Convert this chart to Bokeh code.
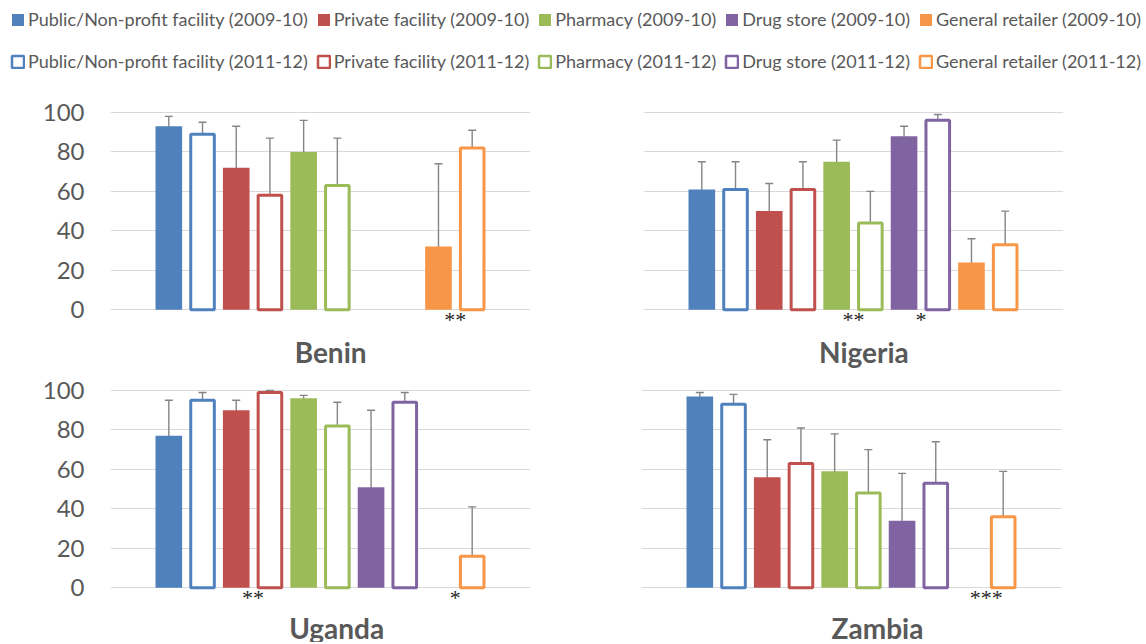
from bokeh.plotting import figure
from bokeh.models import (ColumnDataSource, Range1d, FixedTicker, Whisker, TeeHead,
                          Legend, LegendItem, LabelSet, Label)
from bokeh.layouts import column, row
from bokeh.embed import file_html
from bokeh.resources import INLINE

N = None
outlets = ["Public/Non-profit facility", "Private facility", "Pharmacy", "Drug store", "General retailer"]
periods = ["2009-10", "2011-12"]
colors = ["#4F81BD", "#C0504D", "#9BBB59", "#8064A2", "#F79646"]
countries = ["Benin", "Nigeria", "Uganda", "Zambia"]
y_ticks = [0, 20, 40, 60, 80, 100]

# values (%) per outlet type
benin_0910 = [93, 72, 80, N, 32]
benin_1112 = [89, 58, 63, N, 82]
benin_0910_lo = [69, 32, 40, N, 7]
benin_0910_hi = [98, 93, 96, N, 74]
benin_1112_lo = [75, 23, 29, N, 69]
benin_1112_hi = [95, 87, 87, N, 91]
benin_sig = ["", "", "", "", "**"]

nigeria_0910 = [61, 50, 75, 88, 24]
nigeria_1112 = [61, 61, 44, 96, 33]
nigeria_0910_lo = [45, 35, 60, 80, 13]
nigeria_0910_hi = [75, 64, 86, 93, 36]
nigeria_1112_lo = [44, 44, 29, 86, 20]
nigeria_1112_hi = [75, 75, 60, 99, 50]
nigeria_sig = ["", "", "**", "*", ""]

uganda_0910 = [77, 90, 96, 51, N]
uganda_1112 = [95, 99, 82, 94, 16]
uganda_0910_lo = [37, 78, 93, 10, N]
uganda_0910_hi = [95, 95, 97.5, 90, N]
uganda_1112_lo = [83, 97, 56, 66, 4]
uganda_1112_hi = [99, 100, 94, 99, 41]
uganda_sig = ["", "**", "", "", "*"]

zambia_0910 = [97, 56, 59, 34, N]
zambia_1112 = [93, 63, 48, 53, 36]
zambia_0910_lo = [88, 33, 36, 16, N]
zambia_0910_hi = [99, 75, 78, 58, N]
zambia_1112_lo = [80, 40, 27, 31, 18]
zambia_1112_hi = [98, 81, 70, 74, 59]
zambia_sig = ["", "", "", "", "***"]

panels = {
    "Benin": (benin_0910, benin_1112, benin_0910_lo, benin_0910_hi, benin_1112_lo, benin_1112_hi, benin_sig),
    "Nigeria": (nigeria_0910, nigeria_1112, nigeria_0910_lo, nigeria_0910_hi, nigeria_1112_lo, nigeria_1112_hi, nigeria_sig),
    "Uganda": (uganda_0910, uganda_1112, uganda_0910_lo, uganda_0910_hi, uganda_1112_lo, uganda_1112_hi, uganda_sig),
    "Zambia": (zambia_0910, zambia_1112, zambia_0910_lo, zambia_0910_hi, zambia_1112_lo, zambia_1112_hi, zambia_sig),
}

FONT = "Lato"
GREY_TXT = "#595959"
ERR = "#858585"
PX_PER_UNIT = 1.973


def make_panel(name, show_y, width, height, mb_left, mb_top, title_x, title_y):
    v0, v1, lo0, hi0, lo1, hi1, sig = panels[name]
    frame_h = height - mb_top
    y_start = 101.5 - frame_h / PX_PER_UNIT
    p = figure(width=width, height=height, title=None, toolbar_location=None,
               output_backend="svg", x_range=Range1d(-1.73, 10.73), y_range=Range1d(y_start, 101.5),
               min_border_left=mb_left, min_border_right=width - mb_left - 420,
               min_border_top=mb_top, min_border_bottom=0)
    p.outline_line_color = None
    p.xaxis.visible = False
    p.xgrid.visible = False
    p.yaxis.ticker = FixedTicker(ticks=y_ticks)
    p.ygrid.ticker = FixedTicker(ticks=y_ticks)
    p.ygrid.grid_line_color = "#D9D9D9"
    p.ygrid.grid_line_width = 1
    if show_y:
        p.yaxis.axis_line_color = None
        p.yaxis.major_tick_line_color = None
        p.yaxis.minor_tick_line_color = None
        p.yaxis.major_label_standoff = 20
        p.yaxis.major_label_text_font = FONT
        p.yaxis.major_label_text_font_size = "24px"
        p.yaxis.major_label_text_color = GREY_TXT
    else:
        p.yaxis.visible = False

    for j, (vals, los, his) in enumerate([(v0, lo0, hi0), (v1, lo1, hi1)]):
        xs, tops, cols, exs, elo, ehi = [], [], [], [], [], []
        for i, v in enumerate(vals):
            if v is None:
                continue
            xs.append(2 * i + j)
            tops.append(v)
            cols.append(colors[i])
            if los[i] is not None:
                exs.append(2 * i + j)
                elo.append(los[i])
                ehi.append(his[i])
        src = ColumnDataSource(dict(x=xs, top=tops, c=cols))
        if j == 0:
            p.vbar(x="x", top="top", bottom=0, width=0.79, source=src,
                   fill_color="c", line_color=None)
        else:
            p.vbar(x="x", top="top", bottom=0, width=0.70, source=src,
                   fill_color="white", line_color="c", line_width=3)
        esrc = ColumnDataSource(dict(x=exs, lo=elo, hi=ehi))
        p.add_layout(Whisker(source=esrc, base="x", lower="lo", upper="hi",
                             line_color=ERR, line_width=1.4,
                             upper_head=TeeHead(size=8, line_color=ERR, line_width=1.4),
                             lower_head=TeeHead(size=8, line_color=ERR, line_width=1.4)))

    sx, sy, st = [], [], []
    for i, s in enumerate(sig):
        if s:
            sx.append(2 * i + 0.5)
            sy.append(-5)
            st.append(s)
    ssrc = ColumnDataSource(dict(x=sx, y=sy, t=st))
    p.add_layout(LabelSet(x="x", y="y", text="t", source=ssrc, text_align="center",
                          text_baseline="middle", text_font=FONT, text_font_size="22px",
                          text_color="#262626"))
    p.add_layout(Label(x=title_x, y=title_y, text=name, text_font=FONT,
                       text_font_style="bold", text_font_size="28px", text_color=GREY_TXT,
                       text_align="center", text_baseline="middle"))
    return p


benin = make_panel("Benin", True, 580, 280, 110, 19, 4.8, -21.2)
nigeria = make_panel("Nigeria", False, 564, 280, 63, 19, 4.81, -21.2)
uganda = make_panel("Uganda", True, 580, 272, 110, 17, 4.98, -20.6)
zambia = make_panel("Zambia", False, 564, 272, 61, 17, 5.27, -20.6)

# legend figure
lg = figure(width=1144, height=90, title=None, toolbar_location=None, output_backend="svg",
            x_range=Range1d(0, 1), y_range=Range1d(0, 1), min_border=0)
lg.outline_line_color = None
lg.xaxis.visible = False
lg.yaxis.visible = False
lg.xgrid.visible = False
lg.ygrid.visible = False

for j, period in enumerate(periods):
    items = []
    for i, outlet in enumerate(outlets):
        if j == 0:
            r = lg.vbar(x=[10], top=[0], width=0.5, fill_color=colors[i], line_color=None)
        else:
            r = lg.vbar(x=[10], top=[0], width=0.5, fill_color="white", line_color=colors[i], line_width=2.5)
        items.append(LegendItem(label=f"{outlet} ({period})", renderers=[r]))
    leg = Legend(items=items, orientation="horizontal",
                 location=(10, 60 if j == 0 else 18),
                 border_line_color=None, background_fill_alpha=0,
                 padding=0, margin=0, spacing=8,
                 glyph_width=15, glyph_height=15, label_height=15,
                 label_standoff=3, label_text_font=FONT, label_text_font_size="18px",
                 label_text_color=GREY_TXT, label_text_baseline="middle")
    lg.add_layout(leg, "center")

layout = column(lg, row(benin, nigeria), row(uganda, zambia))
open("out.html", "w").write(file_html(layout, INLINE))
